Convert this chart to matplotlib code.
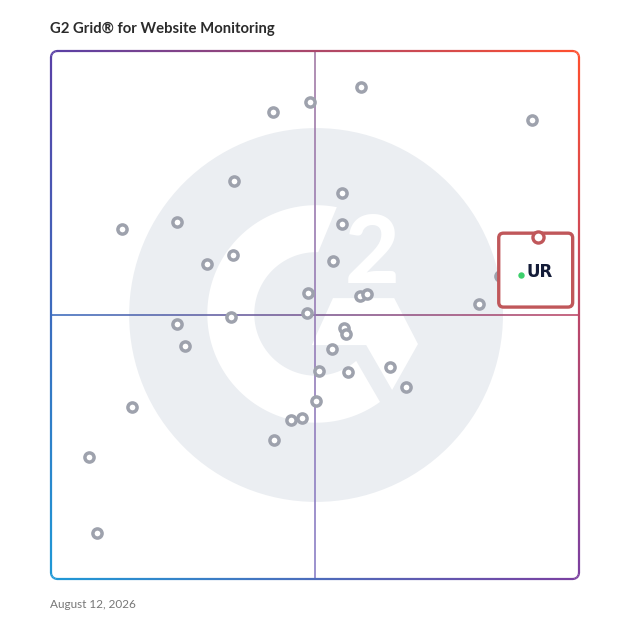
import matplotlib.pyplot as plt
import numpy as np
from matplotlib.collections import LineCollection
from matplotlib.patches import Circle, Polygon, FancyBboxPatch

# vendor positions on the grid (0-100 both ways)
vendor_x = [58.8, 49.1, 42.1, 91.1, 34.7, 55.1, 23.9, 13.5, 55.1, 34.4,
            29.6, 53.5, 48.6, 58.5, 59.9, 81.1, 48.4, 34.1, 23.8, 55.5,
            55.9, 25.4, 53.2, 64.2, 50.8, 56.2, 67.2, 50.1, 15.3, 47.5,
            45.5, 42.3, 7.2, 8.7, 85.0]
vendor_y = [93.1, 90.3, 88.5, 87.0, 75.3, 73.1, 67.6, 66.3, 67.2, 61.4,
            59.6, 60.3, 54.1, 53.6, 53.9, 52.0, 50.3, 49.6, 48.3, 47.6,
            46.4, 44.1, 43.6, 40.1, 39.3, 39.2, 36.4, 33.8, 32.5, 30.5,
            30.1, 26.3, 23.2, 8.8, 57.4]

# highlighted product
ur_label = "UR"
ur_x = 92.2
ur_y = 64.8

title = "G2 Grid\u00ae for Website Monitoring"
date_text = "August 12, 2026"

plt.rcParams['font.family'] = ['Lato', 'DejaVu Sans']

fig = plt.figure(figsize=(6.28, 6.28), dpi=100)
ax = fig.add_axes([51 / 628, 49 / 628, 528 / 628, 528 / 628])
ax.set_xlim(0, 100)
ax.set_ylim(0, 100)
ax.set_aspect('equal')
ax.axis('off')

# corner colours of the gradient frame
c_tl = np.array([0.35, 0.25, 0.65])
c_tr = np.array([1.00, 0.31, 0.18])
c_bl = np.array([0.12, 0.60, 0.84])
c_br = np.array([0.48, 0.25, 0.63])


def grad_color(x, y):
    u, v = x / 100, y / 100
    top = c_tl * (1 - u) + c_tr * u
    bot = c_bl * (1 - u) + c_br * u
    return np.clip(bot * (1 - v) + top * v, 0, 1)


def add_segments(xs, ys, cols, lw, z):
    pts = np.column_stack([xs, ys])
    segs = np.stack([pts[:-1], pts[1:]], axis=1)
    lc = LineCollection(segs, colors=cols, linewidths=lw, zorder=z,
                        capstyle='butt', clip_on=False)
    ax.add_collection(lc)


def grad_line(xs, ys, lw, alpha=1.0, z=3):
    mx = (xs[:-1] + xs[1:]) / 2
    my = (ys[:-1] + ys[1:]) / 2
    cols = [(*grad_color(a, b), alpha) for a, b in zip(mx, my)]
    add_segments(xs, ys, cols, lw, z)


# G2 logo watermark
ax.add_patch(Circle((50.2, 50.0), 35.4, color='#ebeef2', lw=0, zorder=1))
gc = (50.2, 50.2)
a_out = np.radians(np.linspace(79, 306, 120))
a_in = np.radians(np.linspace(310.5, 88, 120))
g_pts = np.vstack([
    np.column_stack([gc[0] + 20.6 * np.cos(a_out), gc[1] + 20.6 * np.sin(a_out)]),
    np.column_stack([gc[0] + 11.7 * np.cos(a_in), gc[1] + 11.7 * np.sin(a_in)]),
])
ax.add_patch(Polygon(g_pts, closed=True, color='white', lw=0, zorder=1.5))
chevron = [(53.4, 53.2), (65.0, 53.2), (69.5, 44.5), (64.6, 35.8),
           (59.7, 44.3), (49.4, 44.3)]
ax.add_patch(Polygon(chevron, closed=True, color='white', lw=0, zorder=1.5))
ax.text(60.8, 56.0, "2", color='white', fontsize=68, fontweight='black',
        ha='center', va='baseline', zorder=1.6)

# quadrant lines
t = np.linspace(0, 100, 200)
grad_line(t, np.full_like(t, 50), 1.3, 0.9, z=2)
v_top = np.array([0.64, 0.48, 0.65])
v_bot = np.array([0.54, 0.50, 0.78])
tm = (t[:-1] + t[1:]) / 200
add_segments(np.full_like(t, 50), t,
             [tuple(v_bot * (1 - s) + v_top * s) for s in tm], 1.2, 2)

# rounded frame: straight edges densified, small arcs at the corners
r = 1.15
corners = [((100 - r, 100 - r), 0, 90), ((r, 100 - r), 90, 180),
           ((r, r), 180, 270), ((100 - r, r), 270, 360)]
fx, fy = [], []
for (cx, cy), a0, a1 in corners:
    aa = np.radians(np.linspace(a0, a1, 6))
    ax_, ay_ = cx + r * np.cos(aa), cy + r * np.sin(aa)
    if fx:
        fx.extend(np.linspace(fx[-1], ax_[0], 80)[1:-1])
        fy.extend(np.linspace(fy[-1], ay_[0], 80)[1:-1])
    fx.extend(ax_)
    fy.extend(ay_)
fx.extend(np.linspace(fx[-1], fx[0], 80)[1:])
fy.extend(np.linspace(fy[-1], fy[0], 80)[1:])
grad_line(np.array(fx), np.array(fy), 1.6, 1.0, z=3)

# vendors
ax.plot(vendor_x, vendor_y, 'o', ms=6.6, mfc='white', mec='#9ea2ad',
        mew=2.5, zorder=4, clip_on=False)

# highlighted product box
box_w, box_h = 14.0, 14.0
ax.add_patch(FancyBboxPatch((ur_x - box_w / 2 - 0.4, ur_y + 0.7 - box_h), box_w, box_h,
                            boxstyle='round,pad=0,rounding_size=0.9',
                            fc='white', ec='#c0575a', lw=2.4, zorder=5))
ax.plot([ur_x], [ur_y], 'o', ms=8, mfc='white', mec='#c0575a', mew=2.4, zorder=6)
ax.plot([ur_x - 3.2], [ur_y - 7.2], 'o', ms=4.6, color='#3dd06c', mew=0, zorder=6)
ax.text(ur_x + 0.4, ur_y - 6.7, ur_label, color='#141c38', fontsize=12,
        fontweight='bold', family='DejaVu Sans', ha='center', va='center', zorder=6)

fig.text(50 / 628, 1 - 29 / 628, title, fontsize=10.7, fontweight='bold',
         color='#2b2b2b', ha='left', va='center')
fig.text(50 / 628, 1 - 604 / 628, date_text, fontsize=8.5, color='#777777',
         ha='left', va='center')

fig.savefig('out.png', dpi=100, facecolor='white')
